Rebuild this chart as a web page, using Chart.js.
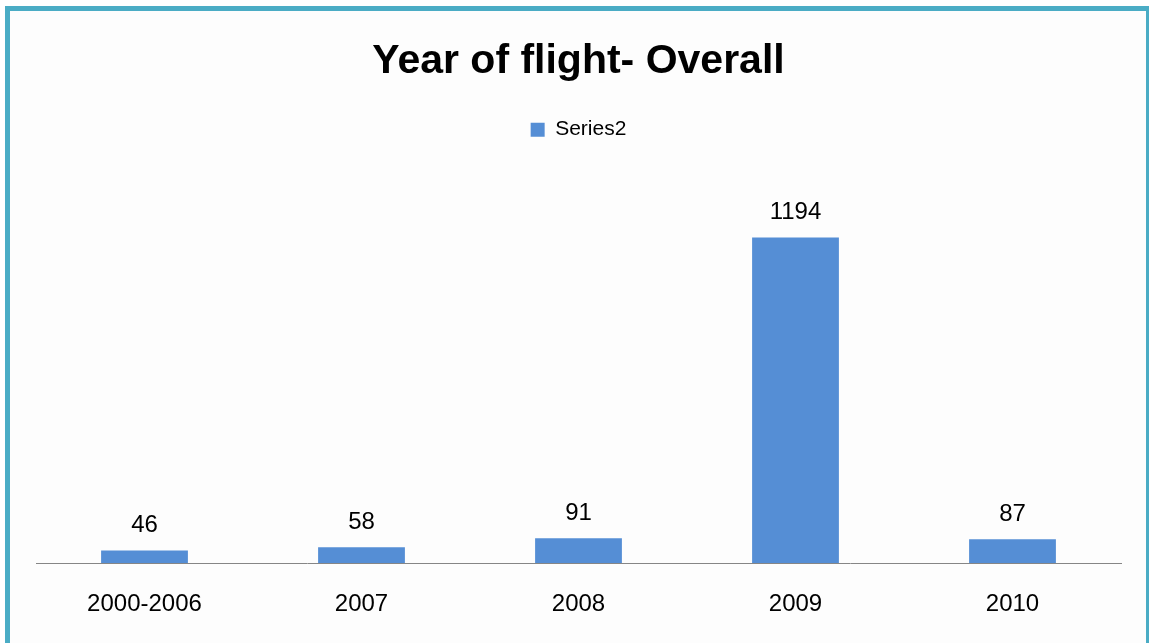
<!DOCTYPE html>
<html>
<head>
<meta charset="utf-8">
<title>Year of flight- Overall</title>
<script src="https://cdn.jsdelivr.net/npm/chart.js@4.4.0/dist/chart.umd.min.js"></script>
<style>
  html, body { margin: 0; padding: 0; background: #ffffff; overflow: hidden; }
  #frame {
    position: absolute; left: 5px; top: 6px;
    width: 1146px; height: 700px;
    box-sizing: border-box;
    border: 5px solid #4aacc5;
    background: #fdfdfd;
  }
  #canvas1 { position: absolute; left: 0; top: 0; }
</style>
</head>
<body>
<div id="frame"></div>
<canvas id="canvas1" width="1149" height="643"></canvas>
<script>
var categories = ["2000-2006", "2007", "2008", "2009", "2010"];
var seriesName = "Series2";
var seriesValues = [46, 58, 91, 1194, 87];
var yMax = 1400;

// numbers above each bar
var valueLabels = {
  id: 'valueLabels',
  afterDatasetsDraw: function (chart) {
    var ctx = chart.ctx;
    var meta = chart.getDatasetMeta(0);
    ctx.save();
    ctx.font = '24px "Liberation Sans", Arial, sans-serif';
    ctx.fillStyle = '#000000';
    ctx.textAlign = 'center';
    ctx.textBaseline = 'alphabetic';
    meta.data.forEach(function (bar, i) {
      ctx.fillText(String(seriesValues[i]), bar.x, bar.y - 18);
    });
    ctx.restore();
  }
};

// extra room under the legend
var legendGap = {
  id: 'legendGap',
  beforeInit: function (chart) {
    var fit = chart.legend.fit;
    chart.legend.fit = function () {
      fit.bind(chart.legend)();
      this.height = 72;
    };
  }
};

new Chart(document.getElementById('canvas1'), {
  type: 'bar',
  data: {
    labels: categories,
    datasets: [{
      label: seriesName,
      data: seriesValues,
      backgroundColor: '#558ed5',
      borderWidth: 0,
      categoryPercentage: 1.0,
      barPercentage: 0.4
    }]
  },
  options: {
    responsive: false,
    animation: false,
    layout: { padding: { left: 36, right: 28, top: 10, bottom: 0 } },
    plugins: {
      title: {
        display: true,
        text: 'Year of flight- Overall',
        color: '#000000',
        font: { family: '"Liberation Sans", Arial, sans-serif', size: 41, weight: 'bold', lineHeight: 1.2 },
        padding: { top: 27, bottom: 23 }
      },
      legend: {
        display: true,
        position: 'top',
        labels: {
          color: '#000000',
          boxWidth: 14,
          boxHeight: 14,
          padding: 10,
          font: { family: '"Liberation Sans", Arial, sans-serif', size: 21 }
        }
      },
      tooltip: { enabled: false }
    },
    scales: {
      x: {
        grid: { display: false, drawTicks: false },
        border: { display: true, color: '#868686', width: 1 },
        ticks: {
          color: '#000000',
          padding: 27,
          maxRotation: 0,
          autoSkip: false,
          font: { family: '"Liberation Sans", Arial, sans-serif', size: 24, lineHeight: 1.2 }
        },
        afterFit: function (scale) {
          scale.height = 80;
        }
      },
      y: {
        display: false,
        min: 0,
        max: yMax
      }
    }
  },
  plugins: [valueLabels, legendGap]
});
</script>
</body>
</html>
